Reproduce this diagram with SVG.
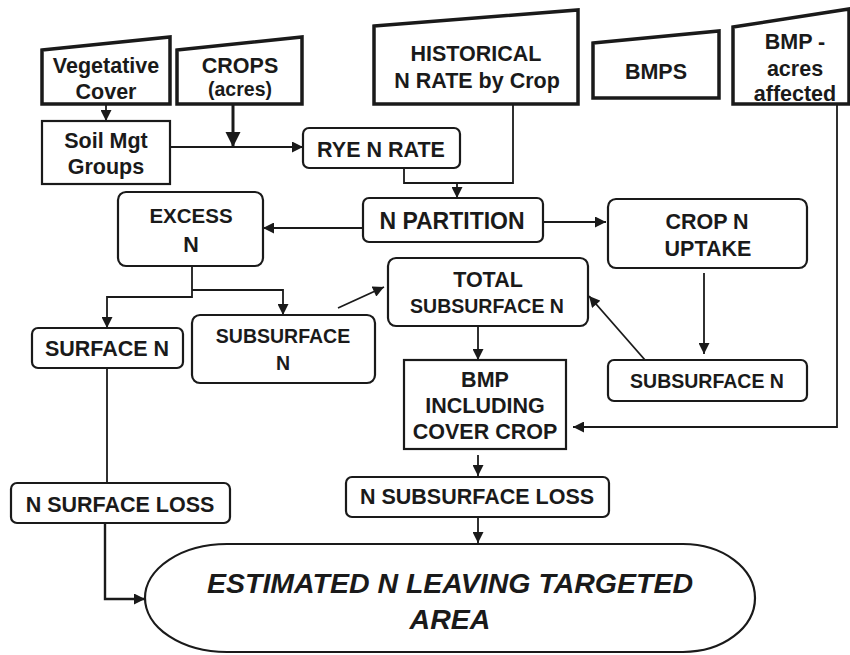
<svg xmlns="http://www.w3.org/2000/svg" width="850" height="655" viewBox="0 0 850 655">
<style>
text{font-family:"Liberation Sans",Arial,Helvetica,sans-serif;font-weight:bold;fill:#1a1a1a;text-anchor:middle;font-size:21.5px}
.s{font-size:19.5px}
.trap{fill:#fff;stroke:#1a1a1a;stroke-width:3.5;stroke-linejoin:miter}
.box{fill:#fff;stroke:#1a1a1a;stroke-width:2.2}
.ln{fill:none;stroke:#1a1a1a;stroke-width:1.8}
.big{font-size:28.5px;font-style:italic}
</style>
<defs>
<marker id="ah" viewBox="0 0 10 10" refX="10" refY="5" markerWidth="12" markerHeight="11" markerUnits="userSpaceOnUse" orient="auto"><path d="M0,0L10,5L0,10z" fill="#1a1a1a"/></marker>
<marker id="ahb" viewBox="0 0 10 10" refX="10" refY="5" markerWidth="15" markerHeight="16" markerUnits="userSpaceOnUse" orient="auto"><path d="M0,0L10,5L0,10z" fill="#1a1a1a"/></marker>
</defs>
<rect width="850" height="655" fill="#fff"/>

<g id="connectors">
<line class="ln" x1="106" y1="104" x2="106" y2="121" marker-end="url(#ah)"/>
<line class="ln" x1="170" y1="147" x2="303" y2="147" marker-end="url(#ah)"/>
<line class="ln" style="stroke-width:3" x1="233" y1="104" x2="233" y2="147" marker-end="url(#ahb)"/>
<polyline class="ln" points="404,168 404,183 513,183 513,104"/>
<line class="ln" x1="457" y1="183" x2="457" y2="198" marker-end="url(#ah)"/>
<line class="ln" x1="363" y1="228" x2="263" y2="228" marker-end="url(#ah)"/>
<line class="ln" x1="543" y1="222" x2="606" y2="222" marker-end="url(#ah)"/>
<polyline class="ln" points="192,266 192,297 107,297 107,328" marker-end="url(#ah)"/>
<polyline class="ln" points="192,290 283,290 283,315" marker-end="url(#ah)"/>
<line class="ln" x1="338" y1="308" x2="384" y2="287" marker-end="url(#ah)"/>
<line class="ln" x1="704" y1="273" x2="704" y2="354" marker-end="url(#ah)"/>
<line class="ln" x1="645" y1="360" x2="589" y2="296" marker-end="url(#ah)"/>
<line class="ln" x1="478" y1="326" x2="478" y2="360" marker-end="url(#ah)"/>
<line class="ln" x1="478" y1="455" x2="478" y2="476" marker-end="url(#ah)"/>
<line class="ln" x1="478" y1="517" x2="478" y2="543" marker-end="url(#ah)"/>
<polyline class="ln" points="837,104 837,427 573,427" marker-end="url(#ah)"/>
<line class="ln" x1="107" y1="368" x2="107" y2="483"/>
<polyline class="ln" style="stroke-width:2.4" points="105,523 105,599 145,599" marker-end="url(#ah)"/>
</g>

<g id="vegetative">
<polygon class="trap" points="42,50 170,37 170,104 42,104"/>
<text x="106" y="73">Vegetative</text>
<text x="106" y="99">Cover</text>
</g>
<g id="crops">
<polygon class="trap" points="177,50 302,37 302,104 177,104"/>
<text x="240" y="73">CROPS</text>
<text x="240" y="96" class="s">(acres)</text>
</g>
<g id="historical">
<polygon class="trap" points="374,26 578,10 578,104 374,104"/>
<text x="476" y="61">HISTORICAL</text>
<text x="477" y="88">N RATE by Crop</text>
</g>
<g id="bmps">
<polygon class="trap" points="593,43 719,31 719,98 593,98"/>
<text x="656" y="79">BMPS</text>
</g>
<g id="bmp-acres">
<polygon class="trap" points="733,27 849,9 849,104 733,104"/>
<text x="795" y="49">BMP -</text>
<text x="795" y="76">acres</text>
<text x="795" y="101">affected</text>
</g>
<g id="soil">
<rect class="box" x="42" y="121" width="128" height="63"/>
<text x="106" y="148">Soil Mgt</text>
<text x="106" y="174">Groups</text>
</g>
<g id="rye">
<rect class="box" x="303" y="128" width="157" height="40" rx="6"/>
<text x="381" y="157">RYE N RATE</text>
</g>
<g id="npartition">
<rect class="box" x="363" y="198" width="180" height="44" rx="6"/>
<text x="452" y="229" style="font-size:23px">N PARTITION</text>
</g>
<g id="excess">
<rect class="box" x="118" y="192" width="145" height="74" rx="8"/>
<text x="191" y="223" style="font-size:20.5px">EXCESS</text>
<text x="191" y="252">N</text>
</g>
<g id="cropuptake">
<rect class="box" x="608" y="199" width="199" height="69" rx="8"/>
<text x="707" y="229">CROP N</text>
<text x="708" y="256">UPTAKE</text>
</g>
<g id="totalsub">
<rect class="box" x="388" y="258" width="200" height="68" rx="8"/>
<text x="488" y="287">TOTAL</text>
<text x="487" y="313" class="s">SUBSURFACE N</text>
</g>
<g id="surface">
<rect class="box" x="32" y="328" width="151" height="40" rx="6"/>
<text x="107" y="356">SURFACE N</text>
</g>
<g id="subsurface-left">
<rect class="box" x="192" y="315" width="183" height="68" rx="8"/>
<text x="283" y="343" class="s">SUBSURFACE</text>
<text x="283" y="370" class="s">N</text>
</g>
<g id="subsurface-right">
<rect class="box" x="608" y="360" width="199" height="41" rx="6"/>
<text x="707" y="388" class="s">SUBSURFACE N</text>
</g>
<g id="bmp">
<rect class="box" x="404" y="360" width="162" height="89"/>
<text x="485" y="387">BMP</text>
<text x="485" y="413">INCLUDING</text>
<text x="485" y="439">COVER CROP</text>
</g>
<g id="nsurfaceloss">
<rect class="box" x="11" y="483" width="219" height="40" rx="6"/>
<text x="120" y="512">N SURFACE LOSS</text>
</g>
<g id="nsubsurfaceloss">
<rect class="box" x="346" y="477" width="263" height="40" rx="6"/>
<text x="477" y="504">N SUBSURFACE LOSS</text>
</g>
<g id="estimated">
<path class="box" d="M227,544 L683,544 A72,54 0 0 1 683,652 L227,652 A82,54 0 0 1 227,544 Z"/>
<text x="450" y="593" class="big">ESTIMATED N LEAVING TARGETED</text>
<text x="450" y="629" class="big">AREA</text>
</g>
</svg>
